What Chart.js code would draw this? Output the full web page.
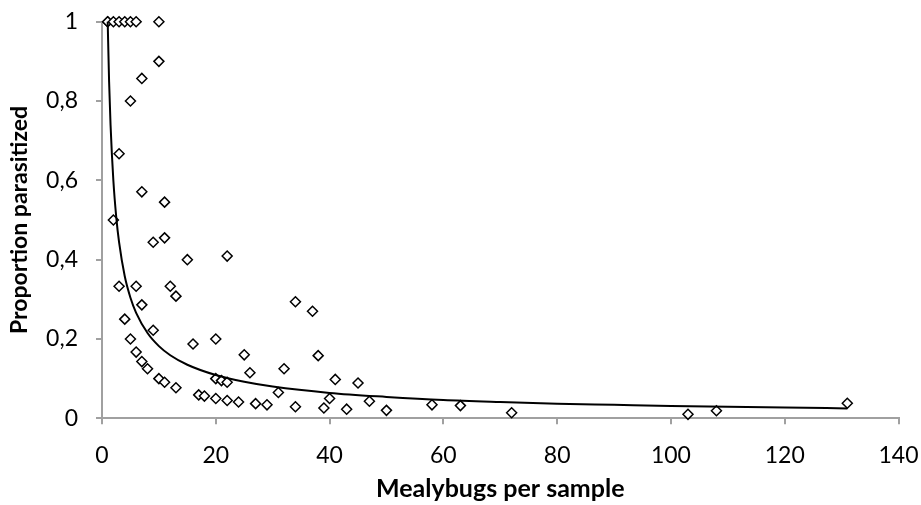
<!DOCTYPE html>
<html>
<head>
<meta charset="utf-8">
<script src="https://cdn.jsdelivr.net/npm/chart.js@4/dist/chart.umd.min.js"></script>
<style>
  html, body { margin: 0; padding: 0; background: #ffffff; }
  #wrap { width: 921px; height: 505px; position: relative; }
</style>
</head>
<body>
<div id="wrap"><canvas id="c" width="921" height="505"></canvas></div>
<script>
// Observed samples: mealybugs per sample (x) and proportion parasitized (y)
const sampleX = [1, 1, 2, 3, 4, 5, 6, 10,
  10, 7, 5,
  3, 7, 11, 2, 9, 11, 15, 22,
  3, 6, 12, 13, 7, 4, 9, 5, 16, 20, 6, 7, 8, 10, 11, 13,
  17, 18, 20, 22, 20, 21, 22,
  34, 37, 25, 38, 26, 32, 41, 45,
  24, 27, 29, 31, 34, 39, 40, 43, 47, 50,
  58, 63, 72, 103, 108, 131];
const sampleY = [1, 1, 1, 1, 1, 1, 1, 1,
  0.9, 0.857, 0.8,
  0.667, 0.571, 0.545, 0.5, 0.444, 0.455, 0.4, 0.409,
  0.333, 0.333, 0.333, 0.308, 0.286, 0.25, 0.222, 0.2, 0.1875, 0.2, 0.167, 0.143, 0.125, 0.1, 0.091, 0.077,
  0.059, 0.056, 0.05, 0.045, 0.1, 0.095, 0.091,
  0.294, 0.27, 0.16, 0.158, 0.115, 0.125, 0.098, 0.089,
  0.041, 0.037, 0.034, 0.065, 0.029, 0.026, 0.05, 0.023, 0.043, 0.02,
  0.034, 0.032, 0.014, 0.01, 0.019, 0.038];

// Fitted trend curve
const curveX = [1, 1.25, 1.5, 2, 2.5, 3, 4, 5, 6, 8, 10, 12, 15, 20, 25, 30, 40, 50, 60, 70, 80, 90, 100, 110, 120, 131];
const curveY = [1.0, 0.848, 0.741, 0.599, 0.508, 0.444, 0.358, 0.304, 0.266, 0.215, 0.182, 0.159, 0.135, 0.109, 0.092, 0.080, 0.064, 0.054, 0.046, 0.041, 0.037, 0.034, 0.031, 0.029, 0.027, 0.025];

const xTicks = [0, 20, 40, 60, 80, 100, 120, 140];
const yTicks = [0, 0.2, 0.4, 0.6, 0.8, 1];
const yTickLabels = ['0', '0,2', '0,4', '0,6', '0,8', '1'];

const xTitle = 'Mealybugs per sample';
const yTitle = 'Proportion parasitized';

const points = sampleX.map((x, i) => ({ x: x, y: sampleY[i] }));
const curve = curveX.map((x, i) => ({ x: x, y: curveY[i] }));

const axisGrey = '#a0a0a0';
const tickFont = { family: 'Lato', size: 23 };
const xTitleFont = { family: 'Lato', size: 25, weight: 'bold' };
const yTitleFont = { family: 'Lato', size: 23, weight: 'bold' };

function zeroPad(s) { s.paddingTop = 0; s.paddingBottom = 0; s.paddingLeft = 0; s.paddingRight = 0; }

new Chart(document.getElementById('c'), {
  type: 'scatter',
  data: {
    datasets: [
      {
        label: 'trend',
        data: curve,
        showLine: true,
        borderColor: '#000000',
        borderWidth: 2,
        pointRadius: 0,
        cubicInterpolationMode: 'monotone',
        fill: false,
        clip: false,
        order: 0
      },
      {
        label: 'samples',
        data: points,
        showLine: false,
        pointStyle: 'rectRot',
        pointRadius: 5,
        pointBackgroundColor: '#ffffff',
        pointBorderColor: '#000000',
        pointBorderWidth: 1.5,
        clip: false,
        order: 1
      }
    ]
  },
  options: {
    responsive: false,
    animation: false,
    devicePixelRatio: 1,
    layout: { padding: { top: 21.7, right: 22.5, left: 0, bottom: 0 } },
    plugins: { legend: { display: false }, tooltip: { enabled: false } },
    scales: {
      x: {
        type: 'linear',
        min: 0, max: 140,
        afterBuildTicks: (s) => { s.ticks = xTicks.map(v => ({ value: v })); },
        ticks: { font: tickFont, color: '#000000', padding: 17, maxRotation: 0,
                 callback: (v) => String(v) },
        grid: { display: true, drawOnChartArea: false, drawTicks: true, tickLength: 6, color: axisGrey, lineWidth: 2 },
        border: { display: true, color: axisGrey, width: 2 },
        title: { display: true, text: xTitle, font: xTitleFont, color: '#000000', padding: { top: 0, bottom: 1 } },
        afterFit: (s) => { s.height = 86.7; zeroPad(s); }
      },
      y: {
        type: 'linear',
        min: 0, max: 1,
        afterBuildTicks: (s) => { s.ticks = yTicks.map(v => ({ value: v })); },
        ticks: { font: tickFont, color: '#000000', padding: 18,
                 callback: (v) => { const i = yTicks.findIndex(t => Math.abs(t - v) < 1e-9); return i >= 0 ? yTickLabels[i] : ''; } },
        grid: { display: true, drawOnChartArea: false, drawTicks: true, tickLength: 6, color: axisGrey, lineWidth: 2 },
        border: { display: true, color: axisGrey, width: 2 },
        title: { display: true, text: yTitle, font: yTitleFont, color: '#000000', padding: { top: 6, bottom: 0 } },
        afterFit: (s) => { s.width = 102; zeroPad(s); }
      }
    }
  }
});
</script>
</body>
</html>
